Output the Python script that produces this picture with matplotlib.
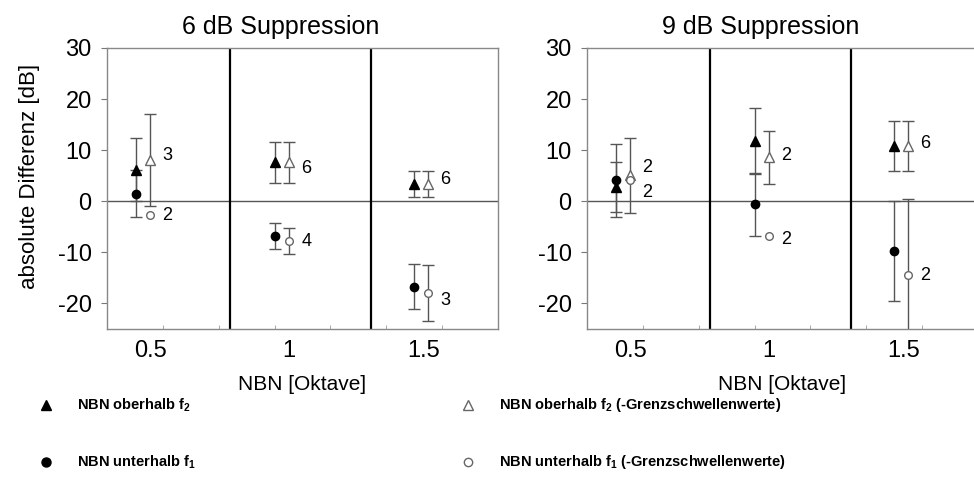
import numpy as np
import matplotlib
matplotlib.use("Agg")
import matplotlib.pyplot as plt
from matplotlib.lines import Line2D

plt.rcParams['font.family'] = ['Liberation Sans', 'DejaVu Sans']
plt.rcParams['mathtext.default'] = 'regular'
plt.rcParams['axes.unicode_minus'] = False

# Bandbreite des NBN
cats = ['0.5', '1', '1.5']

# 6 dB Suppression: Mittelwert und Standardabweichung
up6 = [6.2, 7.6, 3.4]
up6_err = [6.1, 4.0, 2.5]
up6_gr = [8.0, 7.6, 3.4]
up6_gr_err = [9.0, 4.0, 2.5]
lo6 = [1.5, -6.8, -16.7]
lo6_err = [4.6, 2.5, 4.4]
lo6_gr = [-2.75, -7.8, -17.9]
lo6_gr_err = [0.0, 2.6, 5.5]
n_up6 = [3, 6, 6]
n_lo6 = [2, 4, 3]

# 9 dB Suppression
up9 = [2.8, 11.8, 10.8]
up9_err = [4.9, 6.4, 4.9]
up9_gr = [5.1, 8.6, 10.8]
up9_gr_err = [7.3, 5.2, 4.9]
lo9 = [4.1, -0.6, -9.7]
lo9_err = [7.1, 6.1, 9.8]
lo9_gr = [4.1, -6.8, -14.5]
lo9_gr_err = [0.0, 0.0, 15.0]
n_up9 = [2, 2, 6]
n_lo9 = [2, 2, 2]

# x-Positionen der Gruppen (Achse 0..7)
centers = np.array([0.645, 3.135, 5.625])
shift = 0.125
tick_pos = [0.77, 3.26, 5.66]
dividers = [2.2, 4.73]

ERR_C = '#555555'
OPEN_C = '#666666'


def errbars(ax, x, y, err):
    x = np.asarray(x); y = np.asarray(y); err = np.asarray(err)
    m = err > 0
    if m.any():
        ax.errorbar(x[m], y[m], yerr=err[m], fmt='none', ecolor=ERR_C,
                    elinewidth=1.0, capsize=4.6, capthick=1.0, zorder=2)


def panel(ax, title, up, up_e, up_g, up_g_e, lo, lo_e, lo_g, lo_g_e,
          n_up, n_lo, dy_up, dy_lo):
    xf = centers - shift
    xo = centers + shift
    errbars(ax, xf, up, up_e)
    errbars(ax, xf, lo, lo_e)
    errbars(ax, xo, up_g, up_g_e)
    errbars(ax, xo, lo_g, lo_g_e)
    ax.plot(xf, up, '^', color='black', ms=7.5, ls='none', zorder=4)
    ax.plot(xf, lo, 'o', color='black', ms=6, ls='none', zorder=4)
    ax.plot(xo, up_g, '^', mfc='white', mec=OPEN_C, mew=1.0, ms=7.5, ls='none', zorder=4)
    ax.plot(xo, lo_g, 'o', mfc='white', mec=OPEN_C, mew=1.0, ms=5.5, ls='none', zorder=4)

    for i in range(3):
        ax.text(xo[i] + 0.31, up_g[i] + dy_up[i], str(n_up[i]), fontsize=13,
                ha='center', va='center')
        ax.text(xo[i] + 0.31, lo_g[i] + dy_lo[i], str(n_lo[i]), fontsize=13,
                ha='center', va='center')

    ax.axhline(0, color='#555555', lw=1.0, zorder=1)
    for d in dividers:
        ax.axvline(d, color='black', lw=1.6, zorder=1)

    ax.set_xlim(0, 7)
    ax.set_ylim(-25, 30)
    ax.set_yticks([-20, -10, 0, 10, 20, 30])
    ax.set_xticks(tick_pos)
    ax.set_xticklabels(cats)
    ax.set_xticks(np.arange(1, 7), minor=True)
    ax.tick_params(axis='x', which='major', length=0, pad=8, labelsize=17)
    ax.tick_params(axis='x', which='minor', length=3, direction='in', color='#999999')
    ax.tick_params(axis='y', length=4, pad=7, labelsize=17, color='#777777')
    for s in ax.spines.values():
        s.set_color('#888888')
        s.set_linewidth(1.0)
    ax.set_xlabel('NBN [Oktave]', fontsize=15, labelpad=9)
    ax.set_title(title, fontsize=18, x=0.445, pad=10)


fig = plt.figure(figsize=(9.74, 4.92), dpi=100)
ax1 = fig.add_axes([107 / 974, 1 - 329 / 492, 391 / 974, 281 / 492])
ax2 = fig.add_axes([587 / 974, 1 - 329 / 492, 391 / 974, 281 / 492])

panel(ax1, '6 dB Suppression', up6, up6_err, up6_gr, up6_gr_err,
      lo6, lo6_err, lo6_gr, lo6_gr_err, n_up6, n_lo6,
      dy_up=[0.9, -1.1, 0.9], dy_lo=[0.0, 0.0, -1.5])
panel(ax2, '9 dB Suppression', up9, up9_err, up9_gr, up9_gr_err,
      lo9, lo9_err, lo9_gr, lo9_gr_err, n_up9, n_lo9,
      dy_up=[1.6, 0.3, 0.6], dy_lo=[-2.3, -0.7, 0.0])
# rechter Rahmen liegt ausserhalb des Bildes
ax2.spines['right'].set_visible(False)

ax1.set_ylabel('absolute Differenz [dB]', fontsize=16)
ax1.yaxis.set_label_coords(-0.171, (329 - 176) / 281)

# Legende unter den Diagrammen
leg_font = dict(fontsize=10.5, fontweight='bold')
rows = [1 - 405 / 492, 1 - 462 / 492]
items = [
    (46, rows[0], '^', 'black', 'black', 7, r'NBN oberhalb f$_{2}$'),
    (468, rows[0], '^', 'white', OPEN_C, 7, r'NBN oberhalb f$_{2}$ (-Grenzschwellenwerte)'),
    (46, rows[1], 'o', 'black', 'black', 6.5, r'NBN unterhalb f$_{1}$'),
    (468, rows[1], 'o', 'white', OPEN_C, 6, r'NBN unterhalb f$_{1}$ (-Grenzschwellenwerte)'),
]
for px, fy, mk, fc, ec, ms, label in items:
    fig.add_artist(Line2D([px / 974], [fy], transform=fig.transFigure, marker=mk,
                          mfc=fc, mec=ec, ms=ms, ls='none'))
    fig.text((px + 31) / 974, fy, label, va='center', ha='left', **leg_font)

fig.savefig('out.png', dpi=100)
